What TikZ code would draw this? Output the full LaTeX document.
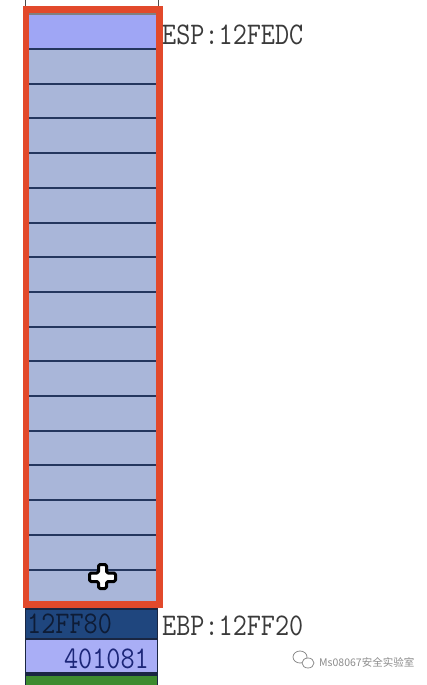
\documentclass[tikz,border=0pt]{standalone}
\usepackage{fontspec}
\newfontfamily\cjkfont{Noto Sans CJK SC}
\definecolor{cellblue}{HTML}{A9B6D9}
\definecolor{espcell}{HTML}{9FA6F5}
\definecolor{sepc}{HTML}{24365E}
\definecolor{redc}{HTML}{E2492B}
\definecolor{navyc}{HTML}{1F467E}
\definecolor{navytext}{HTML}{0E1C36}
\definecolor{lavc}{HTML}{A9AEF6}
\definecolor{lavtext}{HTML}{1C2678}
\definecolor{greenc}{HTML}{3D8B2F}
\definecolor{lblc}{HTML}{3A3A3A}
\definecolor{wmc}{HTML}{8C8C8C}
\tikzset{
  monotext/.style={inner sep=0pt, yscale=1.15, font=\ttfamily\fontsize{27.4}{27.4}\selectfont},
  sepline/.style={draw=sepc, line width=2pt},
  rowbox/.style={draw=sepc!70!black, line width=1.5pt}
}
\begin{document}
\begin{tikzpicture}[x=1pt,y=-1pt]
\useasboundingbox (0,0) rectangle (426,685);
\fill[white] (0,0) rectangle (426,685);
% thin column edges above
\draw[gray!60!black, line width=1pt] (25,0) -- (25,8) (158,0) -- (158,8);
% stack cells
\fill[cellblue] (28,13) rectangle (157,602);
\fill[espcell] (28,13) rectangle (157,49);
\draw[gray, line width=1.5pt] (28,14) -- (157,14);
\foreach \i in {0,...,15} {
  \draw[sepline] (28,{49+\i*34.7}) -- (157,{49+\i*34.7});
}
% red frame
\draw[redc, line width=6.5pt] (26,9.5) rectangle (159.5,604.5);
% lower rows
\fill[fill=navyc] (25.5,609) rectangle (157.5,639);
\fill[fill=lavc] (25.5,639) rectangle (157.5,673);
\filldraw[rowbox, fill=greenc] (25.5,675) rectangle (157.5,690);
\draw[rowbox] (25.5,609) rectangle (157.5,639);
\draw[rowbox] (25.5,639) rectangle (157.5,673);
% texts
\node[monotext, anchor=base west, text=lblc] (esp) at (162,45) {ESP:12FEDC};
\node[monotext, anchor=base west, text=lblc] (ebp) at (162,635) {EBP:12FF20};
\node[monotext, anchor=base west, text=navytext] (v1) at (27,633) {12FF80};
\node[monotext, anchor=base east, text=lavtext] (v2) at (149,668) {401081};
% cursor
\draw[black, line width=3pt, fill=white, line join=round, rounded corners=1.5pt]
  (98.5,564.5) -- (106.5,564.5) -- (106.5,573) -- (115.5,573) -- (115.5,581.5) -- (106.5,581.5)
  -- (106.5,588.5) -- (98.5,588.5) -- (98.5,581.5) -- (89.5,581.5) -- (89.5,573) -- (98.5,573) -- cycle;
% watermark
\draw[wmc, line width=0.8pt] (300,657) ellipse (7pt and 6pt);
\draw[wmc, line width=0.8pt, fill=white] (308,663) ellipse (6pt and 5pt);
\node[anchor=west, inner sep=0pt, text=wmc, font=\cjkfont\fontsize{10.5}{10.5}\selectfont] (wm) at (319,662) {Ms08067安全实验室};
\end{tikzpicture}
\end{document}
